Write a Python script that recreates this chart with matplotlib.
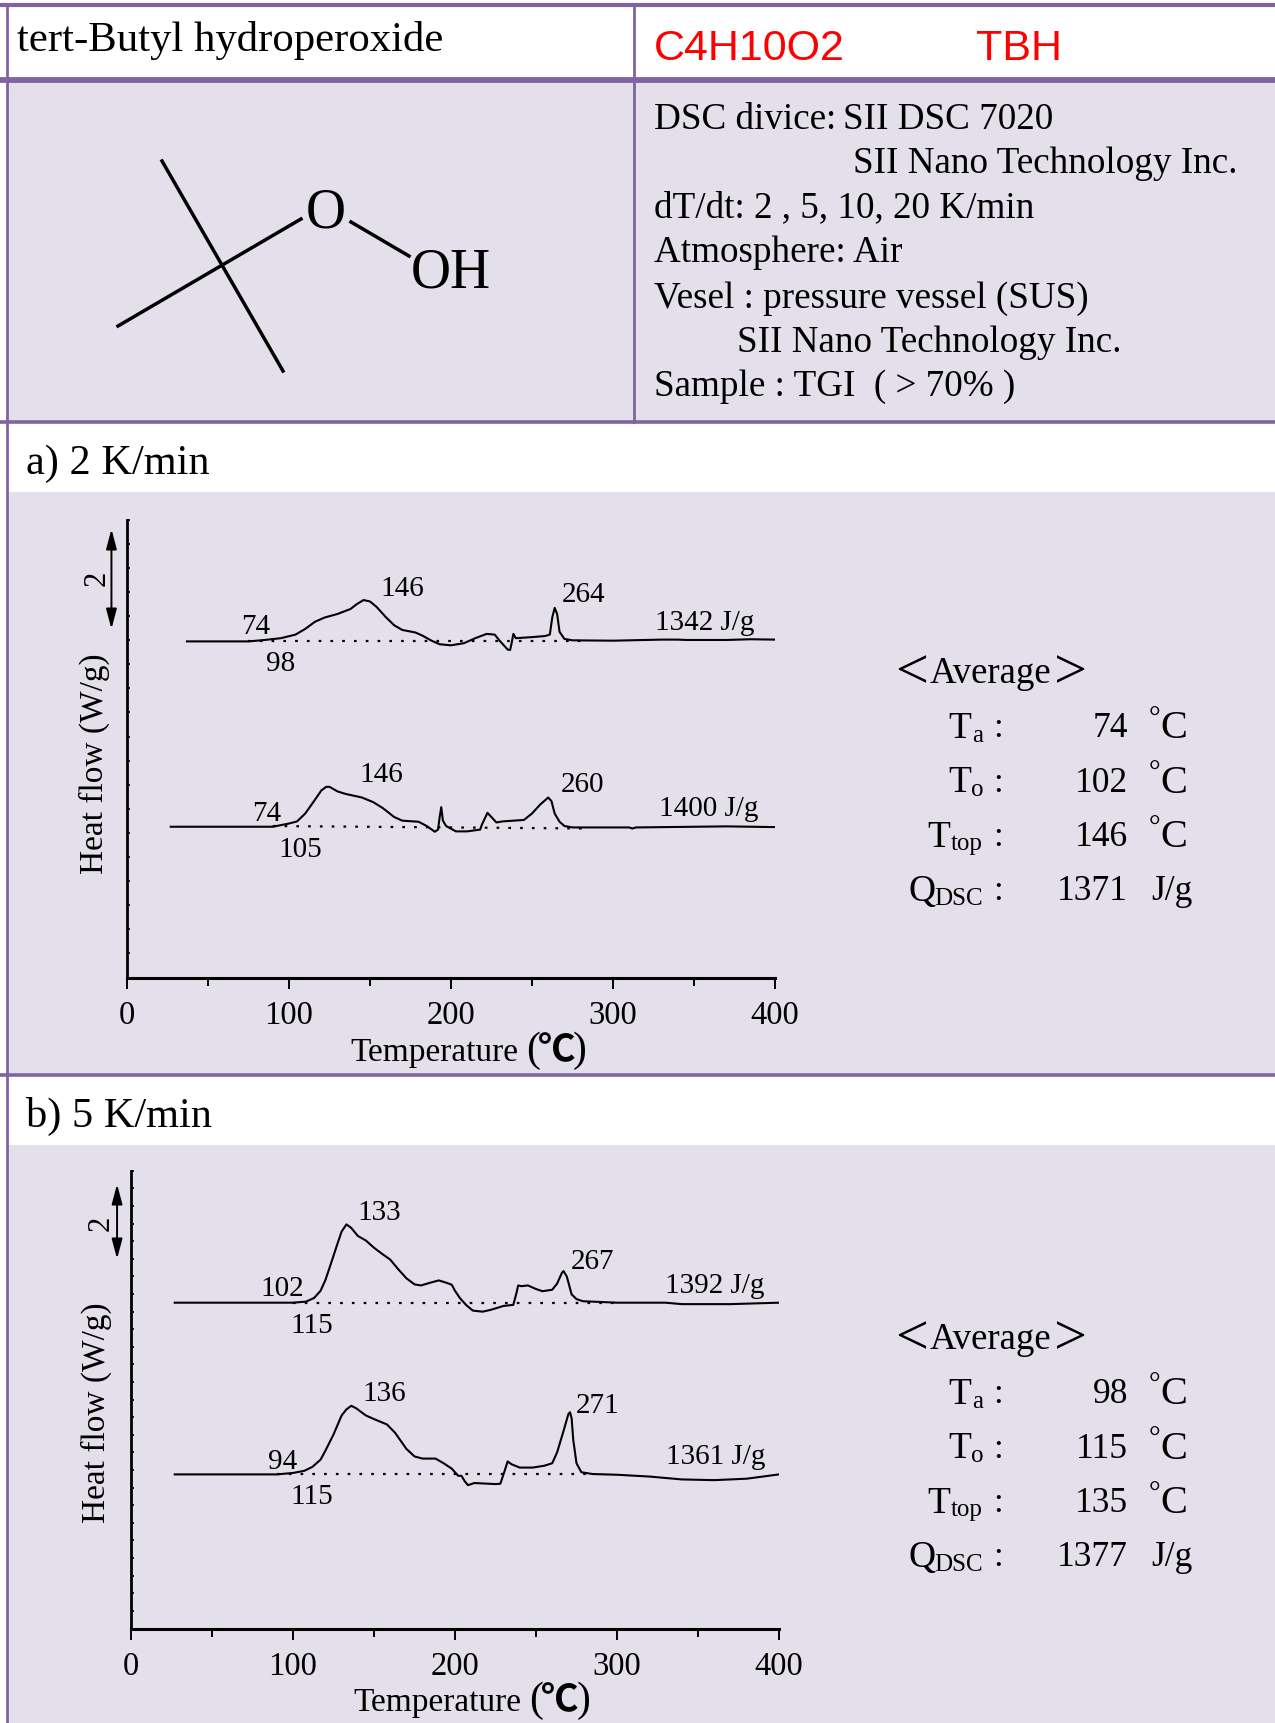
import numpy as np
import matplotlib
matplotlib.use('Agg')
import matplotlib.pyplot as plt

# header / info text
title_name = 'tert-Butyl hydroperoxide'
formula = 'C4H10O2'
abbrev = 'TBH'
info_lines = ['DSC divice', ':', 'SII DSC 7020', 'SII Nano Technology Inc.',
              'dT/dt: 2 , 5, 10, 20 K/min', 'Atmosphere: Air',
              'Vesel : pressure vessel (SUS)', 'SII Nano Technology Inc.',
              'Sample : TGI  ( > 70% )']

# panel a, heat flow (134 units = 1 W/g)
a1_temp = [37, 75, 85, 95, 104, 110, 116, 122, 130, 138, 142, 146, 150, 154, 160, 165, 170, 178, 182, 188,
           193, 200, 208, 215, 222, 227, 230, 235, 236.5, 237.5, 238.5, 240, 250, 258, 261, 262.5, 264, 265.5,
           267, 270, 275, 300, 330, 340, 345, 370, 385, 400]
a1_flow = [943, 943, 947, 952, 962, 978, 998, 1010, 1020, 1034, 1048, 1059, 1055, 1040, 1010, 988, 975, 968, 960, 945,
           935, 932, 938, 952, 964, 962, 945, 920, 919, 940, 964, 952, 955, 958, 962, 1010, 1037, 1020,
           970, 950, 946, 945, 948, 948, 947, 947, 949, 948]
a2_temp = [27, 90, 100, 105, 110, 115, 120, 123, 125, 130, 135, 145, 152, 158, 165, 170, 180, 185, 190, 192,
           193, 194, 195, 197, 203, 210, 218, 219, 222.5, 226, 228, 232, 245, 250, 255, 260, 262, 264,
           267, 270, 275, 310, 312, 314, 370, 400]
a2_flow = [423, 423, 432, 438, 460, 492, 525, 535, 535, 522, 515, 505, 492, 475, 450, 440, 437, 425, 409, 415,
           450, 478, 440, 425, 410, 410, 415, 428, 462, 445, 435, 438, 442, 460, 485, 505, 495, 460,
           437, 425, 421, 421, 418, 421, 424, 422]
a1_base_temp = [75, 280]
a1_base_flow = [943, 943]
a2_base_temp = [90, 285]
a2_base_flow = [425, 418]

# panel b, heat flow (103 units = 1 W/g)
b1_temp = [27, 100, 108, 113, 117, 120, 123, 127, 130, 133, 136, 140, 145, 150, 155, 160, 165, 170, 175, 179,
           185, 190, 195, 198, 200, 203, 207, 211, 217, 222, 230, 236, 238, 239, 241, 245, 250, 254,
           260, 263, 266, 267, 269, 272, 275, 279, 290, 300, 330, 340, 370, 385, 400]
b1_flow = [907, 907, 910, 920, 940, 970, 1010, 1065, 1105, 1125, 1115, 1093, 1080, 1060, 1043, 1027, 1000, 975, 958, 955,
           963, 969, 962, 957, 940, 920, 900, 885, 882, 887, 898, 901, 935, 955, 953, 955, 945, 939,
           943, 960, 990, 995, 980, 930, 917, 911, 909, 907, 907, 903, 903, 905, 907]
b2_temp = [27, 90, 100, 107, 112, 117, 120, 125, 130, 133, 136, 139, 145, 150, 158, 163, 170, 175, 180, 188,
           193, 198, 202, 204, 206, 208, 212, 225, 228, 230, 232.5, 235, 240, 248, 255, 260, 263, 267,
           270, 271, 272, 273, 275, 278, 285, 300, 320, 340, 360, 380, 400]
b2_flow = [429, 429, 433, 439, 450, 470, 495, 540, 593, 610, 620, 613, 593, 583, 568, 545, 500, 479, 473, 473,
           460, 445, 425, 425, 410, 399, 405, 402, 403, 430, 465, 457, 448, 448, 453, 460, 490, 550,
           597, 602, 585, 525, 460, 435, 430, 428, 423, 415, 413, 417, 429]
b1_base_temp = [100, 300]
b1_base_flow = [907, 907]
b2_base_temp = [90, 285]
b2_base_flow = [429, 429]

x_ticks = [0, 100, 200, 300, 400]
x_minor = [50, 150, 250, 350]

avg_a = ['74', '102', '146', '1371']
avg_b = ['98', '115', '135', '1377']

LAV = '#e4e0eb'
PUR = '#8064a2'
SERIF = ['Liberation Serif', 'Noto Sans CJK JP']
plt.rcParams['font.family'] = SERIF

fig = plt.figure(figsize=(12.75, 17.24), dpi=100, facecolor='white')

# overlay in pixel coordinates for the table and all loose text
bg = fig.add_axes([0, 0, 1, 1])
bg.set_xlim(0, 1275)
bg.set_ylim(1724, 0)
bg.axis('off')

for y0, y1 in [(83, 423), (493, 1076), (1146, 1724)]:
    bg.fill_between([7, 1275], y0, y1, color=LAV, lw=0)
bg.plot([0, 1275], [6, 6], color=PUR, lw=3)
bg.plot([0, 1275], [81, 81], color=PUR, lw=4.2)
bg.plot([0, 1275], [423, 423], color=PUR, lw=2.6)
bg.plot([0, 1275], [1076, 1076], color=PUR, lw=2.6)
bg.plot([7, 7], [5, 1724], color=PUR, lw=2)
bg.plot([634, 634], [5, 423], color=PUR, lw=2)


def txt(x, y, s, **kw):
    kw.setdefault('va', 'center')
    return bg.text(x, y + 4, s, **kw)


txt(17, 37, title_name, fontsize=30.8)
txt(654, 45, formula, fontsize=31, color='#ff0000', family='Liberation Sans')
txt(976, 45, abbrev, fontsize=31, color='#ff0000', family='Liberation Sans')

info_x = [654, 825, 843, 853, 654, 654, 654, 737, 654]
info_y = [116, 116, 116, 160, 204, 249, 295, 339, 383]
for x, y, s in zip(info_x, info_y, info_lines):
    txt(x, y, s, fontsize=26.7)

txt(26, 460, 'a) 2 K/min', fontsize=30.5)
txt(26, 1112, 'b) 5 K/min', fontsize=30.5)

# molecule
bg.plot([162, 283], [162, 372], color='black', lw=2.5)
bg.plot([118, 301], [327, 220], color='black', lw=2.5)
bg.plot([351, 409], [223, 257], color='black', lw=2.5)
txt(326, 210, 'O', fontsize=40, ha='center')
txt(451, 270, 'OH', fontsize=40, ha='center')


def draw_panel(rect, ylim, ytick_step, traces, bases, arrow, arrow_x):
    ax = fig.add_axes(rect)
    ax.patch.set_alpha(0)
    for temp, flow in traces:
        ax.plot(temp, flow, color='black', lw=1.5)
    for temp, flow in bases:
        ax.plot(temp, flow, color='black', lw=1.6, dashes=(1.2, 4.1))
    ax.annotate('', xy=(arrow_x, arrow[0]), xytext=(arrow_x, arrow[1]), annotation_clip=False,
                arrowprops=dict(arrowstyle='<|-|>,head_length=0.6,head_width=0.16', color='black', lw=1.4,
                                mutation_scale=20, shrinkA=0, shrinkB=0))
    ax.set_xlim(0, 400)
    ax.set_ylim(0, ylim)
    ax.set_xticks(x_ticks)
    ax.set_xticks(x_minor, minor=True)
    ax.set_yticks(np.arange(0, ylim, ytick_step))
    ax.set_yticklabels([])
    ax.spines['top'].set_visible(False)
    ax.spines['right'].set_visible(False)
    ax.spines['left'].set_linewidth(2)
    ax.spines['bottom'].set_linewidth(2.2)
    ax.tick_params(axis='x', which='major', direction='out', length=8, width=1.4, labelsize=23.5, pad=8)
    ax.tick_params(axis='x', which='minor', direction='out', length=6, width=1.4)
    ax.tick_params(axis='y', direction='in', length=2, width=1.2)
    return ax


W = 1275.0
H = 1724.0
ax_a = draw_panel([127 / W, 1 - 978.5 / H, 648 / W, 458 / H], 1285, 67.6,
                  [(a1_temp, a1_flow), (a2_temp, a2_flow)],
                  [(a1_base_temp, a1_base_flow), (a2_base_temp, a2_base_flow)], (978, 1258), -9.6)
ax_b = draw_panel([131 / W, 1 - 1629.5 / H, 648 / W, 458 / H], 1275, 49,
                  [(b1_temp, b1_flow), (b2_temp, b2_flow)],
                  [(b1_base_temp, b1_base_flow), (b2_base_temp, b2_base_flow)], (1029, 1237), -8.6)

# peak labels: text, x, y in pixels
labels_a = [('74', 256, 623), ('98', 281, 660), ('146', 402, 585), ('264', 584, 591), ('1342 J/g', 705, 619),
            ('74', 267, 810), ('105', 300, 846), ('146', 381, 771), ('260', 582, 781), ('1400 J/g', 709, 805)]
labels_b = [('102', 282, 1285), ('115', 312, 1322), ('133', 379, 1209), ('267', 592, 1258), ('1392 J/g', 715, 1282),
            ('94', 283, 1458), ('115', 312, 1493), ('136', 384, 1390), ('271', 598, 1402), ('1361 J/g', 716, 1453)]
for s, x, y in labels_a + labels_b:
    txt(x, y, s, fontsize=21, ha='center')

# axis titles
for x, y in [(94, 764), (96, 1413)]:
    bg.text(x, y, 'Heat flow (W/g)', fontsize=24, rotation=90, ha='center', va='center')
bg.text(97, 578, '2', fontsize=22, rotation=90, ha='center', va='center')
bg.text(101, 1223, '2', fontsize=22, rotation=90, ha='center', va='center')
for x, y in [(350, 1049), (353, 1699)]:
    txt(x, y, 'Temperature', fontsize=24)
    txt(x + 176, y - 2, '(', fontsize=30)
    txt(x + 207, y - 3, '℃', fontsize=27, family='Noto Sans CJK JP', ha='center', weight='bold')
    txt(x + 237, y - 2, ')', fontsize=30, ha='right')


def draw_average(y0, values):
    rows = [('T', 'a'), ('T', 'o'), ('T', 'top'), ('Q', 'DSC')]
    units = ['C', 'C', 'C', 'J/g']
    txt(895, y0, '<', fontsize=42)
    txt(930, y0, 'Average', fontsize=26.5)
    txt(1054, y0, '>', fontsize=42)
    for i, (main, sub) in enumerate(rows):
        y = y0 + 55 + i * 54.2
        txt(983, y + 7, sub, fontsize=18, ha='right')
        sub_w = {'a': 12, 'o': 12, 'top': 33, 'DSC': 47}[sub]
        txt(983 - sub_w, y, main, fontsize=27, ha='right')
        txt(998, y, ':', fontsize=25, ha='center')
        txt(1128, y, values[i], fontsize=25.5, ha='right')
        if units[i] == 'J/g':
            txt(1151, y, units[i], fontsize=25.5)
        else:
            txt(1160, y - 9, '°', fontsize=21, ha='right')
            txt(1160, y, units[i], fontsize=29)


draw_average(670, avg_a)
draw_average(1336, avg_b)

fig.savefig('out.png', dpi=100)
